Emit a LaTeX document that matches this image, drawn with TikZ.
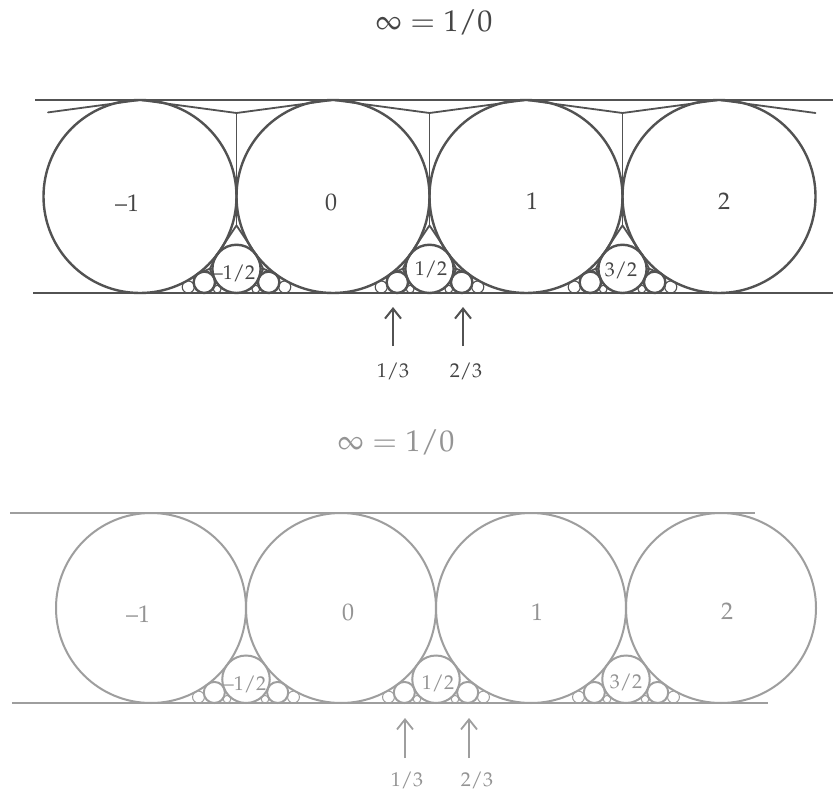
\documentclass[tikz,border=0pt]{standalone}
\usepackage[T1]{fontenc}
\usepackage{mathpazo}
\usetikzlibrary{arrows.meta}
\definecolor{inkA}{gray}{0.32}
\definecolor{txtA}{gray}{0.27}
\definecolor{inkB}{gray}{0.62}
\definecolor{txtB}{gray}{0.58}
\tikzset{
  fa/.style={draw=inkA,line width=2.4pt},
  fasmall/.style={draw=inkA,line width=1.1pt},
  treeline/.style={draw=inkA,line width=1.8pt,line join=round,line cap=round},
  fb/.style={draw=inkB,line width=2pt},
  fbsmall/.style={draw=inkB,line width=1pt},
  ttl/.style={font=\fontsize{30}{30}\selectfont,inner sep=0pt},
  biglab/.style={font=\fontsize{24}{24}\selectfont,inner sep=0pt},
  halflab/.style={font=\fontsize{20}{20}\selectfont,inner sep=0pt},
  arrlab/.style={font=\fontsize{20}{20}\selectfont,inner sep=0pt},
  arrA/.style={draw=inkA,line width=2pt,-{Straight Barb[length=10pt,width=16pt]}},
  arrB/.style={draw=inkB,line width=1.8pt,-{Straight Barb[length=10pt,width=16pt]}},
}
\begin{document}
\begin{tikzpicture}[x=1pt,y=-1pt]
\useasboundingbox[fill=white] (0,0) rectangle (833,797);

% ================= upper panel =================
\node[ttl,text=txtA] (titleA) at (434,22) {$\infty = 1/0$};
\begin{scope}[shift={(333,293)},x=193pt,y=193pt]
  \coordinate (aTL) at (-1.544,1); \coordinate (aTR) at (2.591,1);
  \coordinate (aBL) at (-1.554,0); \coordinate (aBR) at (2.591,0);
  \draw[fa] (aTL) -- (aTR);
  \draw[fa] (aBL) -- (aBR);
  \foreach \n in {-1,0,1,2} \draw[fa] (\n,0.5) circle[radius=0.5];
  \foreach \n in {-1,0,1}{
    \draw[fa] (\n+0.5,0.125) circle[radius=0.125];
    \draw[fa] (\n+1/3,1/18) circle[radius=1/18];
    \draw[fa] (\n+2/3,1/18) circle[radius=1/18];
    \draw[fasmall] (\n+1/4,1/32) circle[radius=1/32];
    \draw[fasmall] (\n+3/4,1/32) circle[radius=1/32];
    \draw[fasmall] (\n+2/5,1/50) circle[radius=1/50];
    \draw[fasmall] (\n+3/5,1/50) circle[radius=1/50];
  }
  % dual tree
  \foreach \n/\m in {-1/a,0/b,1/c}{
    \coordinate (top\m) at (\n+0.5,0.9326);
    \coordinate (tl\m) at (\n,1);
    \coordinate (tr\m) at (\n+1,1);
    \coordinate (mid\m) at (\n+0.5,0.5);
    \coordinate (low\m) at (\n+0.5,0.35);
    \coordinate (tL\m) at (\n+0.4,0.2);
    \coordinate (tR\m) at (\n+0.6,0.2);
    \coordinate (sL\m) at (\n+0.3,0.1);
    \coordinate (sR\m) at (\n+0.7,0.1);
    \coordinate (uL\m) at (\n+5/13,1/13);
    \coordinate (uR\m) at (\n+8/13,1/13);
    \coordinate (cL\m) at (\n+0.3615,0.1256);
    \coordinate (cR\m) at (\n+0.6385,0.1256);
    \draw[treeline] (tl\m) -- (top\m) -- (tr\m);
    \draw[treeline] (top\m) -- (mid\m) -- (low\m);
    \draw[treeline] (tL\m) -- (low\m) -- (tR\m);
    \draw[treeline] (tL\m) -- (cL\m) (sL\m) -- (cL\m) -- (uL\m);
    \draw[treeline] (tR\m) -- (cR\m) (sR\m) -- (cR\m) -- (uR\m);
  }
  \coordinate (stubLa) at (-1,1);
  \coordinate (stubLb) at (-1.4767,0.9357);
  \coordinate (stubRa) at (2,1);
  \coordinate (stubRb) at (2.5,0.9326);
  \draw[treeline] (stubLa) -- (stubLb);
  \draw[treeline] (stubRa) -- (stubRb);
\end{scope}
\node[biglab,text=txtA] (lAm1) at (127,203) {--1};
\node[biglab,text=txtA] (lA0) at (331,202) {0};
\node[biglab,text=txtA] (lA1) at (532,201) {1};
\node[biglab,text=txtA] (lA2) at (724,201) {2};
\node[halflab,text=txtA] (lAmh) at (234,273) {--1/2};
\node[halflab,text=txtA] (lAh) at (431,269) {1/2};
\node[halflab,text=txtA] (lA3h) at (621,270) {3/2};
\coordinate (aA13t) at (393,346); \coordinate (aA13h) at (393,307);
\coordinate (aA23t) at (463,346); \coordinate (aA23h) at (463,307);
\draw[arrA] (aA13t) -- (aA13h);
\draw[arrA] (aA23t) -- (aA23h);
\node[arrlab,text=txtA] (lA13) at (393,371) {1/3};
\node[arrlab,text=txtA] (lA23) at (466,371) {2/3};

% ================= lower panel =================
\node[ttl,text=txtB] (titleB) at (396,442) {$\infty = 1/0$};
\begin{scope}[shift={(341,703)},x=190pt,y=190pt]
  \coordinate (bTL) at (-1.742,1); \coordinate (bTR) at (2.179,1);
  \coordinate (bBL) at (-1.732,0); \coordinate (bBR) at (2.247,0);
  \draw[fb] (bTL) -- (bTR);
  \draw[fb] (bBL) -- (bBR);
  \foreach \n in {-1,0,1,2} \draw[fb] (\n,0.5) circle[radius=0.5];
  \foreach \n in {-1,0,1}{
    \draw[fb] (\n+0.5,0.125) circle[radius=0.125];
    \draw[fb] (\n+1/3,1/18) circle[radius=1/18];
    \draw[fb] (\n+2/3,1/18) circle[radius=1/18];
    \draw[fbsmall] (\n+1/4,1/32) circle[radius=1/32];
    \draw[fbsmall] (\n+3/4,1/32) circle[radius=1/32];
    \draw[fbsmall] (\n+2/5,1/50) circle[radius=1/50];
    \draw[fbsmall] (\n+3/5,1/50) circle[radius=1/50];
  }
\end{scope}
\node[biglab,text=txtB] (lBm1) at (138,614) {--1};
\node[biglab,text=txtB] (lB0) at (348,612) {0};
\node[biglab,text=txtB] (lB1) at (537,612) {1};
\node[biglab,text=txtB] (lB2) at (727,611) {2};
\node[halflab,text=txtB] (lBmh) at (245,684) {--1/2};
\node[halflab,text=txtB] (lBh) at (438,683) {1/2};
\node[halflab,text=txtB] (lB3h) at (626,682) {3/2};
\coordinate (aB13t) at (405,758); \coordinate (aB13h) at (405,718);
\coordinate (aB23t) at (469,758); \coordinate (aB23h) at (469,718);
\draw[arrB] (aB13t) -- (aB13h);
\draw[arrB] (aB23t) -- (aB23h);
\node[arrlab,text=txtB] (lB13) at (407,780) {1/3};
\node[arrlab,text=txtB] (lB23) at (477,780) {2/3};
\end{tikzpicture}
\end{document}
